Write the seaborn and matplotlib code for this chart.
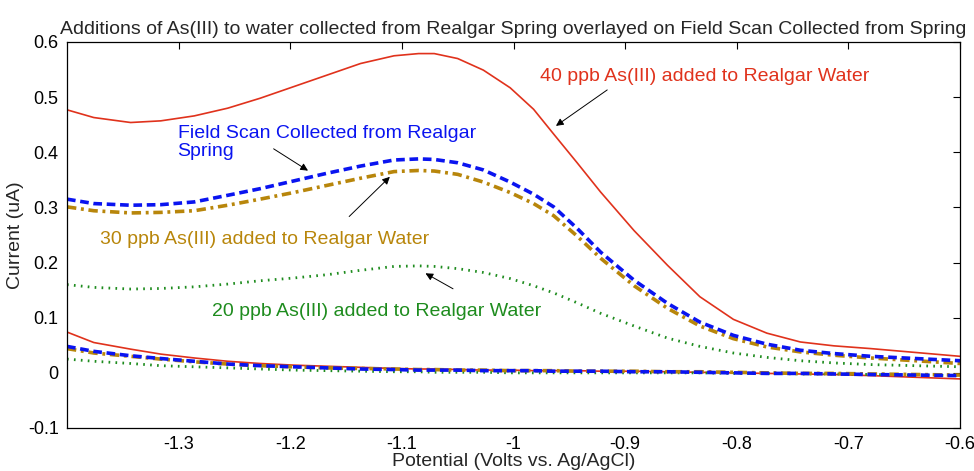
import numpy as np
import pandas as pd
import matplotlib
matplotlib.use("Agg")
import matplotlib.pyplot as plt
import seaborn as sns

# Potential (V vs Ag/AgCl) sample points shared by every scan
potential = [-1.400, -1.376, -1.343, -1.316, -1.286, -1.256, -1.227, -1.197,
             -1.167, -1.137, -1.107, -1.085, -1.071, -1.050, -1.027, -1.003,
             -0.982, -0.964, -0.943, -0.922, -0.892, -0.862, -0.833, -0.803,
             -0.773, -0.743, -0.713, -0.680, -0.640, -0.600]

# Current (uA), peak branch of each scan
red_peak = [0.477, 0.463, 0.454, 0.457, 0.466, 0.480, 0.498, 0.519,
            0.540, 0.561, 0.575, 0.579, 0.579, 0.570, 0.549, 0.517,
            0.478, 0.433, 0.381, 0.328, 0.258, 0.195, 0.138, 0.097,
            0.072, 0.056, 0.049, 0.044, 0.037, 0.030]
blue_peak = [0.315, 0.307, 0.304, 0.305, 0.310, 0.322, 0.334, 0.348,
             0.362, 0.375, 0.386, 0.388, 0.387, 0.381, 0.368, 0.346,
             0.324, 0.301, 0.262, 0.219, 0.168, 0.126, 0.092, 0.068,
             0.052, 0.041, 0.035, 0.030, 0.026, 0.022]
gold_peak = [0.301, 0.294, 0.290, 0.291, 0.294, 0.304, 0.315, 0.327,
             0.340, 0.353, 0.365, 0.367, 0.366, 0.360, 0.346, 0.327,
             0.307, 0.285, 0.248, 0.208, 0.158, 0.117, 0.085, 0.062,
             0.047, 0.038, 0.032, 0.027, 0.022, 0.017]
green_peak = [0.160, 0.155, 0.152, 0.153, 0.156, 0.161, 0.167, 0.172,
              0.178, 0.186, 0.193, 0.194, 0.193, 0.189, 0.182, 0.171,
              0.158, 0.145, 0.127, 0.108, 0.085, 0.063, 0.048, 0.036,
              0.028, 0.022, 0.018, 0.015, 0.013, 0.011]

# Current (uA), baseline branch of each scan
red_base = [0.074, 0.055, 0.043, 0.034, 0.027, 0.021, 0.017, 0.014,
            0.012, 0.010, 0.008, 0.007, 0.007, 0.006, 0.005, 0.005,
            0.004, 0.004, 0.004, 0.003, 0.003, 0.002, 0.001, 0.000,
            -0.001, -0.002, -0.003, -0.005, -0.008, -0.011]
blue_base = [0.048, 0.039, 0.031, 0.026, 0.021, 0.016, 0.013, 0.011,
             0.009, 0.007, 0.006, 0.005, 0.005, 0.005, 0.004, 0.004,
             0.004, 0.003, 0.003, 0.003, 0.002, 0.002, 0.001, 0.000,
             -0.001, -0.001, -0.002, -0.003, -0.004, -0.005]
gold_base = [0.044, 0.036, 0.030, 0.025, 0.020, 0.016, 0.013, 0.011,
             0.009, 0.008, 0.007, 0.006, 0.006, 0.005, 0.005, 0.004,
             0.004, 0.004, 0.003, 0.003, 0.003, 0.002, 0.002, 0.001,
             0.000, -0.001, -0.001, -0.002, -0.003, -0.004]
green_base = [0.025, 0.021, 0.017, 0.013, 0.011, 0.009, 0.007, 0.005,
              0.004, 0.003, 0.002, 0.002, 0.001, 0.001, 0.001, 0.000,
              0.000, 0.000, 0.000, 0.000, 0.000, 0.000, 0.000, -0.001,
              -0.001, -0.002, -0.002, -0.003, -0.004, -0.005]

x_ticks = [-1.3, -1.2, -1.1, -1.0, -0.9, -0.8, -0.7, -0.6]
x_ticklabels = ["-1.3", "-1.2", "-1.1", "-1", "-0.9", "-0.8", "-0.7", "-0.6"]
y_ticks = [-0.1, 0, 0.1, 0.2, 0.3, 0.4, 0.5, 0.6]
y_ticklabels = ["-0.1", "0", "0.1", "0.2", "0.3", "0.4", "0.5", "0.6"]

sns.set_theme(style="white")
plt.rcParams["font.family"] = ["Liberation Sans", "DejaVu Sans"]

fig = plt.figure(figsize=(9.74, 4.71), dpi=100)
ax = fig.add_axes([67 / 974, 1 - 428 / 471, (960 - 67) / 974, (428 - 42) / 471])

red = "#e0321c"
blue = "#0a14f0"
gold = "#b8860b"
green = "#1e8c1e"

series = [
    (red_peak, red_base, red, "-", 1.2),
    (green_peak, green_base, green, (0, (0.6, 1.9)), 2.0),
    (gold_peak, gold_base, gold, (0, (2.6, 1.3, 0.8, 1.3)), 2.6),
    (blue_peak, blue_base, blue, (0, (2.4, 1.3)), 2.6),
]
for peak, base, color, ls, lw in series:
    for branch in (peak, base):
        df = pd.DataFrame({"potential": potential, "current": branch})
        sns.lineplot(data=df, x="potential", y="current", ax=ax, color=color,
                     linestyle=ls, linewidth=lw, sort=False)

ax.set_xlim(-1.4, -0.6)
ax.set_ylim(-0.1, 0.6)
ax.set_xticks(x_ticks)
ax.set_xticklabels(x_ticklabels)
ax.set_yticks(y_ticks)
ax.set_yticklabels(y_ticklabels)
ax.tick_params(direction="in", length=5, width=0.8, top=True, right=True,
               labeltop=False, labelright=False, labelsize=13, colors="black",
               pad=6)
for side in ax.spines.values():
    side.set_color("black")
    side.set_linewidth(0.9)

ax.set_xlabel("Potential (Volts vs. Ag/AgCl)", fontsize=14, labelpad=0)
ax.set_ylabel("Current (uA)", fontsize=14, labelpad=3)
ax.set_title("Additions of As(III) to water collected from Realgar Spring "
             "overlayed on Field Scan Collected from Spring",
             fontsize=14, pad=6)

arrow = dict(arrowstyle="-|>", color="black", lw=0.7, mutation_scale=11)
ax.annotate("40 ppb As(III) added to Realgar Water", xy=(-0.976, 0.538),
            color=red, fontsize=14, va="center", ha="left")
ax.annotate("", xy=(-0.964, 0.445), xytext=(-0.914, 0.516), arrowprops=arrow)

ax.annotate("Field Scan Collected from Realgar\nSpring", xy=(-1.301, 0.418),
            color=blue, fontsize=14, va="center", ha="left", linespacing=1.1)
ax.annotate("", xy=(-1.182, 0.364), xytext=(-1.217, 0.409), arrowprops=arrow)

ax.annotate("30 ppb As(III) added to Realgar Water", xy=(-1.370, 0.241),
            color=gold, fontsize=14, va="center", ha="left")
ax.annotate("", xy=(-1.109, 0.359), xytext=(-1.149, 0.280), arrowprops=arrow)

ax.annotate("20 ppb As(III) added to Realgar Water", xy=(-1.270, 0.111),
            color=green, fontsize=14, va="center", ha="left")
ax.annotate("", xy=(-1.081, 0.183), xytext=(-1.052, 0.150), arrowprops=arrow)

fig.savefig("out.png", dpi=100)
